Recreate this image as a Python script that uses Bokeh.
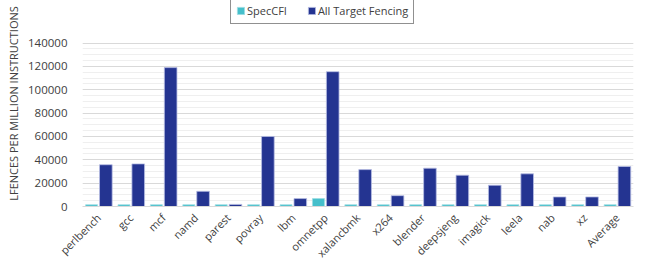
from bokeh.plotting import figure
from bokeh.models import ColumnDataSource, FactorRange, Legend, LegendItem, FixedTicker, Range1d
from bokeh.transform import dodge
from bokeh.embed import file_html
from bokeh.resources import INLINE
import math

categories = ["perlbench", "gcc", "mcf", "namd", "parest", "povray", "lbm", "omnetpp",
              "xalancbmk", "x264", "blender", "deepsjeng", "imagick", "leela", "nab", "xz", "Average"]
speccfi = [1500, 1500, 1500, 1500, 1500, 1500, 1500, 6800, 1500, 1500, 1500, 1500, 1500, 1500, 1500, 1500, 1500]
all_fencing = [35800, 36500, 119000, 13000, 1800, 60000, 6800, 115500, 31600, 9300, 32800, 26800, 18200, 28000, 8200, 8200, 34300]
y_ticks = [0, 20000, 40000, 60000, 80000, 100000, 120000, 140000]
y_minor_ticks = list(range(0, 140001, 5000))

src = ColumnDataSource(dict(cat=categories, spec=speccfi, allf=all_fencing))

FONT = "Open Sans"
# frame spans the full height above the x axis so the legend can sit inside it;
# the axis top (140000) lands 43px below the top edge
Y_TOP = 140000 * 208 / 165
p = figure(width=646, height=268, x_range=FactorRange(factors=categories, range_padding=0),
           y_range=Range1d(0, Y_TOP), output_backend="svg", toolbar_location=None,
           min_border_left=82, min_border_right=13, min_border_top=0, min_border_bottom=60)
p.outline_line_color = None

r1 = p.vbar(x=dodge("cat", -0.22, range=p.x_range), top="spec", width=0.37, source=src,
            fill_color="#45BFCB", line_color="#9EDDE3", line_width=0.8)
r2 = p.vbar(x=dodge("cat", 0.22, range=p.x_range), top="allf", width=0.39, source=src,
            fill_color="#243491", line_color="#B8BEE3", line_width=0.8)

p.yaxis.ticker = FixedTicker(ticks=y_ticks, minor_ticks=y_minor_ticks)
p.ygrid.grid_line_color = "#D9D9D9"
p.ygrid.minor_grid_line_color = "#EFEFEF"
p.xgrid.grid_line_color = None
p.yaxis.axis_line_color = None
p.yaxis.major_tick_line_color = None
p.yaxis.minor_tick_line_color = None
p.yaxis.major_label_text_font = FONT
p.yaxis.major_label_text_font_size = "11.5px"
p.yaxis.major_label_text_color = "#404040"
p.yaxis.major_label_standoff = 9
p.yaxis.axis_label = "LFENCES PER MILLION INSTRUCTIONS"
p.yaxis.axis_label_text_font = FONT
p.yaxis.axis_label_text_font_size = "11px"
p.yaxis.axis_label_text_font_style = "normal"
p.yaxis.axis_label_text_color = "#404040"
p.yaxis.axis_label_standoff = 4
p.yaxis.formatter.use_scientific = False

p.xaxis.axis_line_color = "#D9D9D9"
p.xaxis.major_tick_line_color = None
p.xaxis.minor_tick_line_color = None
p.xaxis.major_label_orientation = math.pi / 4
p.xaxis.major_label_text_font = FONT
p.xaxis.major_label_text_font_size = "11px"
p.xaxis.major_label_text_color = "#404040"
p.xaxis.major_label_standoff = 3

legend = Legend(items=[LegendItem(label="SpecCFI", renderers=[r1]),
                       LegendItem(label="All Target Fencing", renderers=[r2])],
                orientation="horizontal", location=(148, 182),
                border_line_color="#222222", border_line_width=1,
                label_text_font=FONT, label_text_font_size="11px", label_text_color="#404040",
                glyph_width=9, glyph_height=9, spacing=20, padding=5, margin=0,
                label_standoff=2, background_fill_alpha=1)
p.add_layout(legend, "center")

open("out.html", "w").write(file_html(p, INLINE))
